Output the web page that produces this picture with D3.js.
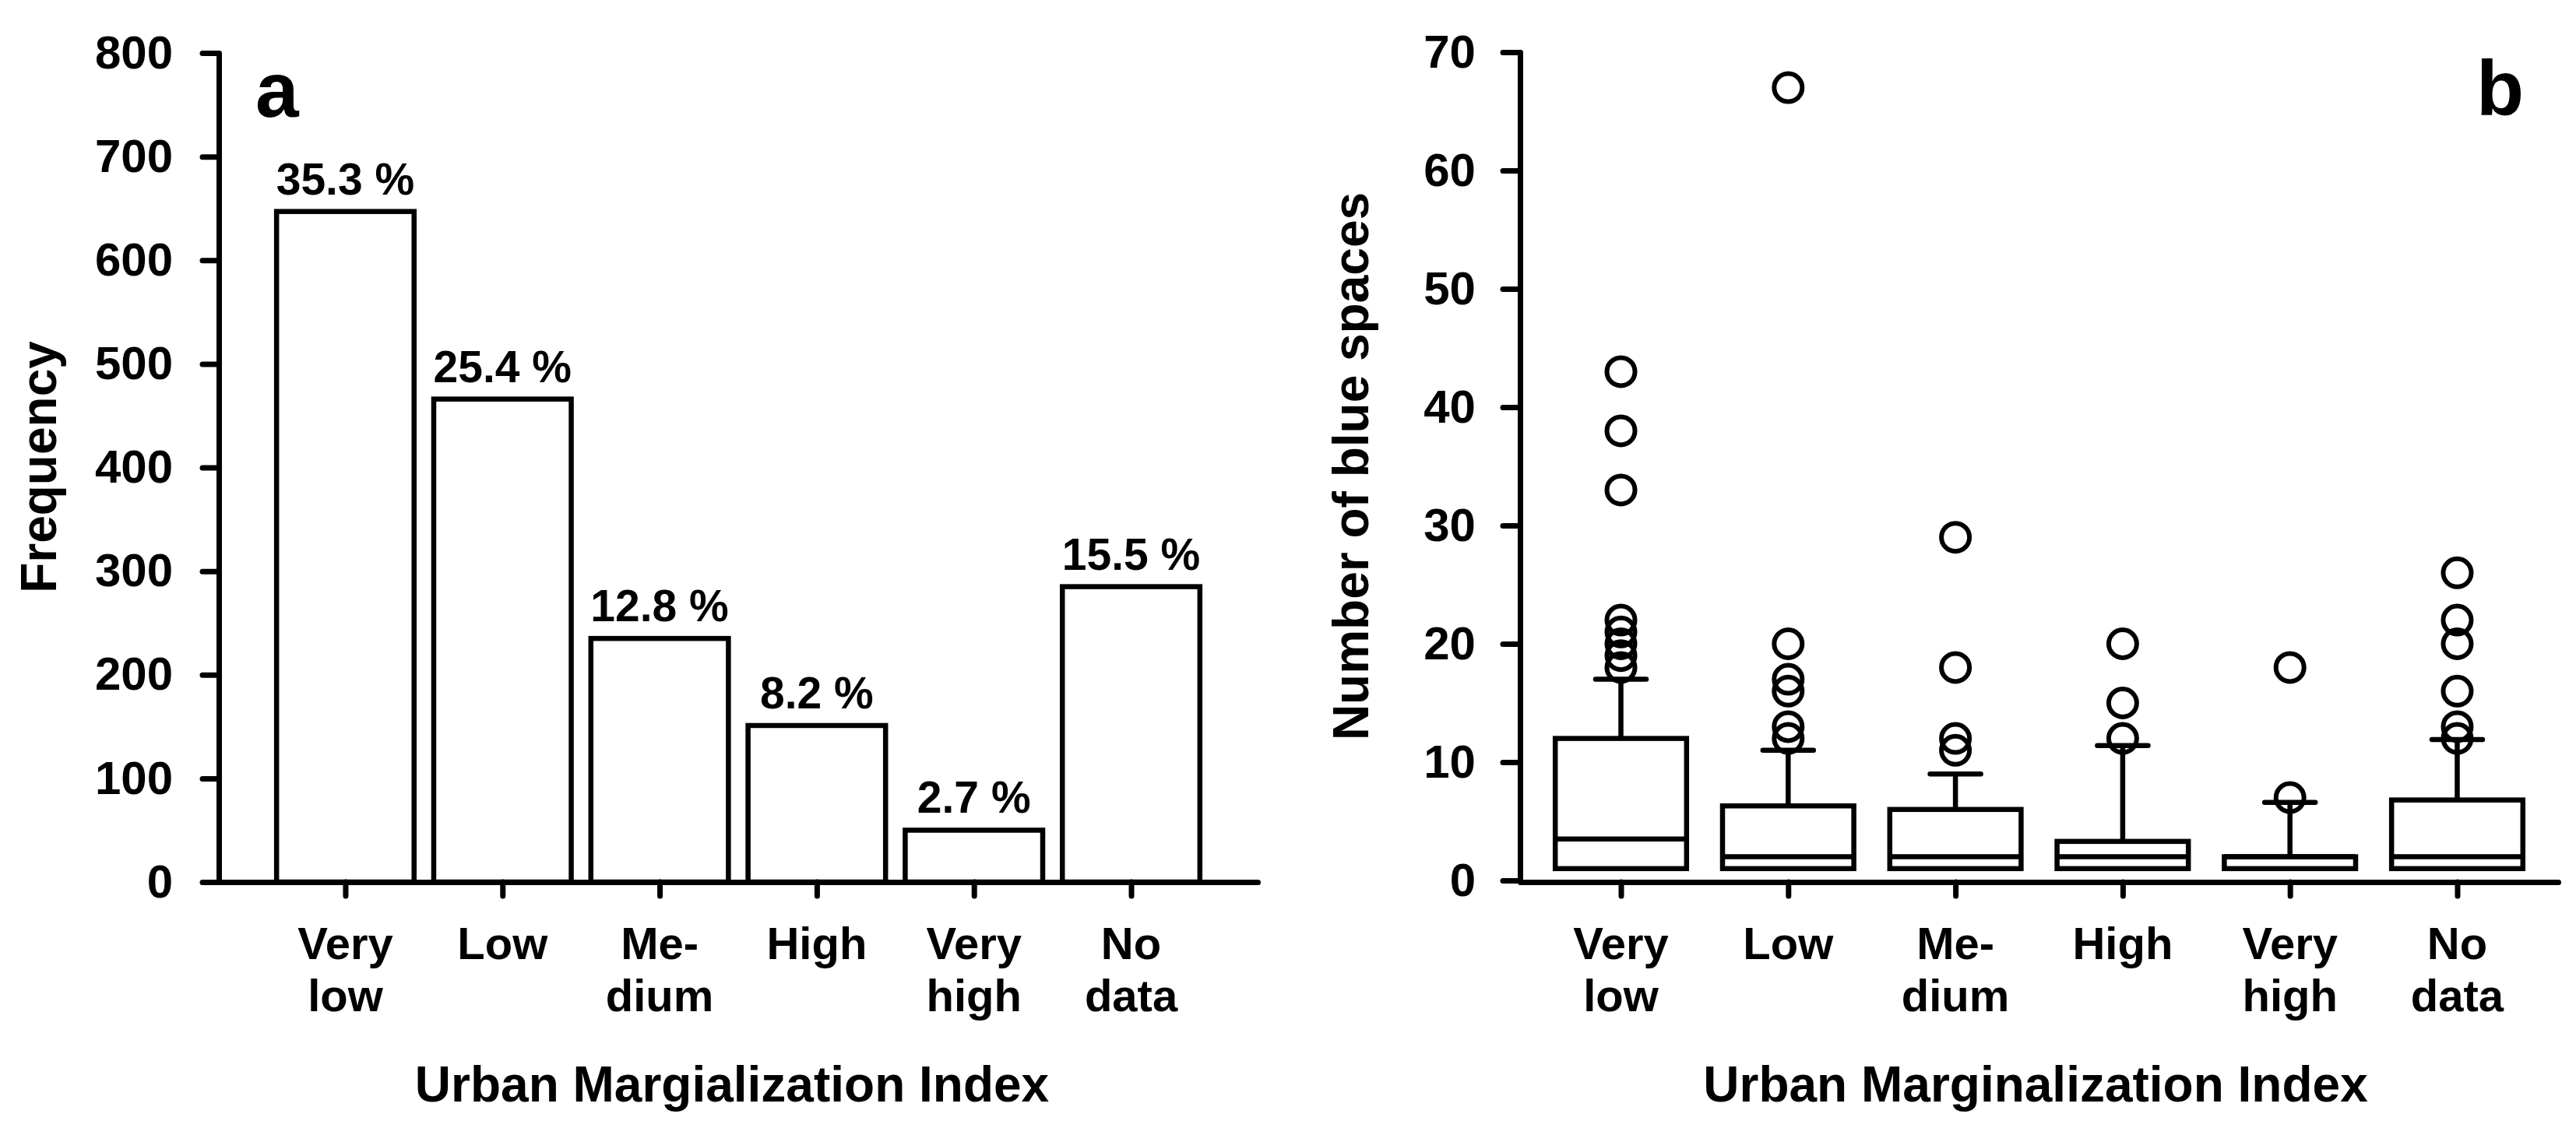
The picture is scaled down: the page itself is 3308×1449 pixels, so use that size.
<!DOCTYPE html>
<html>
<head>
<meta charset="utf-8">
<script src="https://cdn.jsdelivr.net/npm/d3@7"></script>
<style>
  html, body { margin: 0; padding: 0; background: #fff; }
  svg { display: block; }
  text { font-family: "Liberation Sans", Arial, sans-serif; fill: #000; }
</style>
</head>
<body>
<svg id="chart" width="3308" height="1449"></svg>
<script>
// ---------- data ----------
const categories = ["Very low", "Low", "Medium", "High", "Very high", "No data"];
const categoryLines = [["Very", "low"], ["Low"], ["Me-", "dium"], ["High"], ["Very", "high"], ["No", "data"]];

// panel a
const frequency = [647, 466, 235, 151, 50, 285];
const percentLabels = ["35.3 %", "25.4 %", "12.8 %", "8.2 %", "2.7 %", "15.5 %"];
const freqTicks = [0, 100, 200, 300, 400, 500, 600, 700, 800];

// panel b (box plots)
const boxQ1 = [1, 1, 1, 1, 1, 1];
const boxMedian = [3.5, 2, 2, 2, 2, 2];
const boxQ3 = [12, 6.3, 6, 3.3, 2, 6.8];
const whiskerLow = [1, 1, 1, 1, 1, 1];
const whiskerHigh = [17, 11, 9, 11.4, 6.6, 11.9];
const outliers = [
  [18, 19, 20, 21, 22, 33, 38, 43],
  [12, 13, 16, 17, 20, 67],
  [11, 12, 18, 29],
  [12, 15, 20],
  [7, 18],
  [12, 13, 16, 20, 22, 26]
];
const blueTicks = [0, 10, 20, 30, 40, 50, 60, 70];

const xTitleA = "Urban Margialization Index";
const xTitleB = "Urban Marginalization Index";
const yTitleA = "Frequency";
const yTitleB = "Number of blue spaces";

// ---------- drawing ----------
const svg = d3.select("#chart");
svg.append("rect").attr("width", 3308).attr("height", 1449).attr("fill", "#fff");

const AXW = 7;
const LW = 6.5;
const tickFont = 60;
const catFont = 58;
const titleFont = 64;

function styleAxis(g) {
  g.selectAll("path.domain").attr("stroke", "#000").attr("stroke-width", AXW).attr("stroke-linecap", "round");
  g.selectAll(".tick line").attr("stroke", "#000").attr("stroke-width", AXW).attr("stroke-linecap", "round");
  g.selectAll(".tick text").attr("font-size", tickFont).attr("font-weight", "bold")
    .attr("font-family", '"Liberation Sans", Arial, sans-serif').attr("fill", "#000");
}

function drawCategoryLabels(xs) {
  const g = svg.append("g");
  categories.forEach((c, i) => {
    const t = g.append("text")
      .attr("x", xs(c)).attr("y", 1232)
      .attr("text-anchor", "middle")
      .attr("font-size", catFont).attr("font-weight", "bold");
    categoryLines[i].forEach((ln, j) => {
      t.append("tspan").attr("x", xs(c)).attr("y", 1232 + j * 67).text(ln);
    });
  });
}

// ===== Panel a =====
const xa = d3.scalePoint().domain(categories).range([281, 1615]).padding(0.805);
const ya = d3.scaleLinear().domain([0, 800]).range([1133, 68]);

const barW = xa.step() * 0.875;
svg.append("g").selectAll("rect").data(categories).join("rect")
  .attr("x", d => xa(d) - barW / 2)
  .attr("y", (d, i) => ya(frequency[i]))
  .attr("width", barW)
  .attr("height", (d, i) => ya(0) - ya(frequency[i]))
  .attr("fill", "#fff").attr("stroke", "#000").attr("stroke-width", LW);

svg.append("g").selectAll("text").data(categories).join("text")
  .attr("x", d => xa(d))
  .attr("y", (d, i) => ya(frequency[i]) - 22)
  .attr("text-anchor", "middle")
  .attr("font-size", 57).attr("font-weight", "bold")
  .text((d, i) => percentLabels[i]);

const gya = svg.append("g").attr("transform", "translate(281,0)")
  .call(d3.axisLeft(ya).tickValues(freqTicks).tickFormat(d3.format("d")).tickSize(21).tickSizeOuter(0).tickPadding(38));
styleAxis(gya);

const gxa = svg.append("g").attr("transform", "translate(0,1133)")
  .call(d3.axisBottom(xa).tickSize(18).tickSizeOuter(0).tickFormat(""));
styleAxis(gxa);

drawCategoryLabels(xa);

svg.append("text").attr("x", 940).attr("y", 1415).attr("text-anchor", "middle")
  .attr("font-size", titleFont).attr("font-weight", "bold").text(xTitleA);
svg.append("text").attr("transform", "translate(72,600) rotate(-90)").attr("text-anchor", "middle")
  .attr("font-size", titleFont).attr("font-weight", "bold").text(yTitleA);
svg.append("text").attr("x", 328).attr("y", 150)
  .attr("font-size", 100).attr("font-weight", "bold").text("a");

// ===== Panel b =====
const xb = d3.scalePoint().domain(categories).range([1952, 3285]).padding(0.603);
const yb = d3.scaleLinear().domain([0, 70]).range([1131, 67]);

const boxW = xb.step() * 0.785;
const capW = 65;
const gb = svg.append("g");
categories.forEach((c, i) => {
  const cx = xb(c);
  gb.append("line").attr("x1", cx).attr("x2", cx)
    .attr("y1", yb(boxQ3[i])).attr("y2", yb(whiskerHigh[i]))
    .attr("stroke", "#000").attr("stroke-width", LW);
  gb.append("line").attr("x1", cx - capW / 2).attr("x2", cx + capW / 2)
    .attr("y1", yb(whiskerHigh[i])).attr("y2", yb(whiskerHigh[i]))
    .attr("stroke", "#000").attr("stroke-width", LW).attr("stroke-linecap", "round");
  gb.append("line").attr("x1", cx).attr("x2", cx)
    .attr("y1", yb(boxQ1[i])).attr("y2", yb(whiskerLow[i]))
    .attr("stroke", "#000").attr("stroke-width", LW);
  gb.append("rect").attr("x", cx - boxW / 2).attr("y", yb(boxQ3[i]))
    .attr("width", boxW).attr("height", yb(boxQ1[i]) - yb(boxQ3[i]))
    .attr("fill", "#fff").attr("stroke", "#000").attr("stroke-width", LW);
  gb.append("line").attr("x1", cx - boxW / 2).attr("x2", cx + boxW / 2)
    .attr("y1", yb(boxMedian[i])).attr("y2", yb(boxMedian[i]))
    .attr("stroke", "#000").attr("stroke-width", LW);
  gb.append("g").selectAll("circle").data(outliers[i]).join("circle")
    .attr("cx", cx).attr("cy", d => yb(d)).attr("r", 18)
    .attr("fill", "none").attr("stroke", "#000").attr("stroke-width", 6);
});

const gyb = svg.append("g").attr("transform", "translate(1952,0)")
  .call(d3.axisLeft(yb).tickValues(blueTicks).tickFormat(d3.format("d")).tickSize(22).tickSizeOuter(0).tickPadding(35));
styleAxis(gyb);

const gxb = svg.append("g").attr("transform", "translate(0,1133)")
  .call(d3.axisBottom(xb).tickSize(18).tickSizeOuter(0).tickFormat(""));
styleAxis(gxb);

drawCategoryLabels(xb);

svg.append("text").attr("x", 2614).attr("y", 1415).attr("text-anchor", "middle")
  .attr("font-size", titleFont).attr("font-weight", "bold").text(xTitleB);
svg.append("text").attr("transform", "translate(1757,599) rotate(-90)").attr("text-anchor", "middle")
  .attr("font-size", titleFont).attr("font-weight", "bold").text(yTitleB);
svg.append("text").attr("x", 3180).attr("y", 148)
  .attr("font-size", 100).attr("font-weight", "bold").text("b");
</script>
</body>
</html>
